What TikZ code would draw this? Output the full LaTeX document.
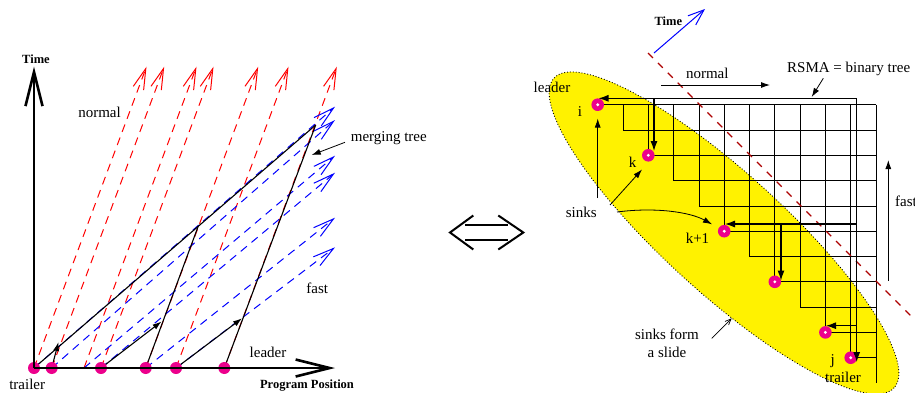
\documentclass[tikz,border=0pt]{standalone}
\usepackage{fontspec}
\setmainfont{Liberation Serif}
\usetikzlibrary{arrows.meta,calc}
\definecolor{darkred}{rgb}{0.68,0,0}
\begin{document}
\begin{tikzpicture}[x=1pt,y=-1pt,
  lbl/.style={inner sep=0pt, anchor=base, font=\fontsize{15}{17}\selectfont},
  blbl/.style={inner sep=0pt, anchor=base, font=\fontsize{12.5}{14}\selectfont\bfseries},
  axisline/.style={line width=2.6pt, -{Straight Barb[length=34pt,width=17pt]}},
  normalline/.style={red, line width=1pt, dash pattern=on 8pt off 6pt, -{Straight Barb[length=21pt,width=11pt]}},
  fastline/.style={blue, line width=1pt, dash pattern=on 8pt off 6pt, -{Straight Barb[length=21pt,width=11pt]}},
  mtree/.style={line width=1.1pt},
  stip/.style={-{Latex[length=9pt,width=6pt]}},
  ttip/.style={-{Latex[length=10pt,width=7pt]}},
  gridline/.style={line width=0.8pt},
  treeline/.style={line width=1.1pt},
  sinkdot/.style={fill=magenta, draw=none},
]
\useasboundingbox (0,0) rectangle (915,392);

%%%%%%%%%%%%%%%% LEFT PANEL %%%%%%%%%%%%%%%%
\coordinate (O) at (34,368);
\coordinate (tT) at (34,66.7);
\coordinate (pT) at (335,368);
\foreach \x [count=\i] in {34,51.7,84,101,145.7,176,224.3}
  \coordinate (b\i) at (\x,368);
% normal (red) lines
\foreach \i in {1,...,7}{
  \coordinate (rt\i) at ($(b\i)+(112.5,-301.3)$);
  \draw[normalline] (b\i) -- (rt\i);
}
% fast (blue) lines
\foreach \i/\ty in {1/106.7,2/120,3/155.7,4/172.7,5/217.7,6/247.3}{
  \coordinate (ft\i) at (335,\ty);
  \draw[fastline] (b\i) -- (ft\i);
}
% merging tree
\coordinate (apex) at (315.7,125);
\coordinate (m2) at (58.5,342);
\coordinate (m3) at (161.5,321.5);
\coordinate (m4) at (198.3,226);
\coordinate (m5) at (242,318.3);
\draw[mtree] (b1) -- (apex);
\draw[mtree] (b7) -- (apex);
\draw[mtree] (b5) -- (m4);
\draw[mtree,stip] (b2) -- (m2);
\draw[mtree,stip] (b4) -- (m3);
\draw[mtree,stip] (b6) -- (m5);
% sinks
\foreach \i in {1,2,4,5,6,7}
  \fill[sinkdot] (b\i) circle (6);
% axes
\draw[axisline] (O) -- (tT);
\draw[axisline] (O) -- (pT);
% labels
\node[blbl] (timeL) at (36,63.3) {Time};
\node[blbl] (ppos) at (307,388.5) {Program Position};
\node[lbl] (trailL) at (27.2,389) {trailer};
\node[lbl] (leadL) at (268,357.8) {leader};
\node[lbl] (normL) at (99.5,117) {normal};
\node[lbl] (fastL) at (317.2,293.8) {fast};
\node[lbl] (mergL) at (388.8,141.5) {merging tree};
\coordinate (mergA) at (345,142.3);
\coordinate (mergB) at (311.7,155);
\draw[line width=0.8pt,stip] (mergA) -- (mergB);

%%%%%%%%%%%%%%%% DOUBLE ARROW %%%%%%%%%%%%%%%%
\coordinate (dl) at (450,232.5);
\coordinate (dr) at (523.3,232.5);
\draw[line width=2pt] (473.3,215.5) -- (dl) -- (473.3,249.5);
\draw[line width=2pt] (498.3,215.5) -- (dr) -- (498.3,249.5);
\draw[line width=2pt] (465,225) -- (508.3,225);
\draw[line width=2pt] (465,240) -- (508.3,240);

%%%%%%%%%%%%%%%% RIGHT PANEL %%%%%%%%%%%%%%%%
% slide ellipse
\coordinate (ec) at (724,233);
\fill[yellow, rotate around={-42.3:(ec)}] (ec) ellipse [x radius=230, y radius=60];
\draw[black, dotted, line width=0.9pt, rotate around={-42.3:(ec)}] (ec) ellipse [x radius=230, y radius=60];

% grid
\pgfmathsetmacro{\gx}{597.7}
\pgfmathsetmacro{\gy}{104.7}
\pgfmathsetmacro{\gu}{25.3}
\foreach \r in {0,...,10}
  \draw[gridline] ({\gx+\r*\gu},{\gy+\r*\gu}) -- ({\gx+11*\gu},{\gy+\r*\gu});
\foreach \c in {1,...,11}
  \draw[gridline] ({\gx+\c*\gu},\gy) -- ({\gx+\c*\gu},{\gy+\c*\gu});

% time diagonal
\coordinate (dgA) at (648,53);
\coordinate (dgB) at (913,318);
\draw[darkred, line width=1.1pt, dash pattern=on 7pt off 7pt] (dgA) -- (dgB);

% sinks
\coordinate (si)  at ({\gx},{\gy});
\coordinate (sk)  at ({\gx+2*\gu},{\gy+2*\gu});
\coordinate (sk1) at ({\gx+5*\gu},{\gy+5*\gu});
\coordinate (s7)  at ({\gx+7*\gu},{\gy+7*\gu});
\coordinate (s9)  at ({\gx+9*\gu},{\gy+9*\gu});
\coordinate (sj)  at ({\gx+10*\gu},{\gy+10*\gu});
\foreach \s in {si,sk,sk1,s7,s9,sj}{
  \fill[magenta] (\s) circle (6.3);
  \fill[white] (\s) circle (1.6);
}

% RSMA tree
\coordinate (root) at (856.7,98.3);
\coordinate (ti) at (598.5,98.3);
\coordinate (tkA) at (654,98.3);
\coordinate (tk) at (654,151);
\coordinate (tj) at (856.7,362);
\coordinate (b5A) at (856.7,224);
\coordinate (t5) at (725,224);
\coordinate (b7A) at (781,224);
\coordinate (t7) at (781,280.5);
\coordinate (b9A) at (856.7,325.7);
\coordinate (t9) at (826,325.7);
\draw[treeline,ttip] (root) -- (ti);
\draw[treeline,ttip] (tkA) -- (tk);
\draw[treeline,ttip] (root) -- (tj);
\draw[treeline,ttip] (b5A) -- (t5);
\draw[treeline,ttip] (b7A) -- (t7);
\draw[treeline,ttip] (b9A) -- (t9);

% time arrow
\coordinate (tmA) at (654,53);
\coordinate (tmB) at (705,9);
\draw[blue, line width=1pt, -{Straight Barb[length=16pt,width=12pt]}] (tmA) -- (tmB);
\node[blbl] (timeR) at (668.3,25) {Time};

% normal arrow
\coordinate (nA) at (661,85);
\coordinate (nB) at (770,85);
\draw[line width=0.9pt,stip] (nA) -- (nB);
\node[lbl] (normR) at (707.3,78.5) {normal};

% RSMA label
\node[lbl] (rsma) at (848.7,72.8) {RSMA = binary tree};
\coordinate (rA) at (823.3,78.3);
\coordinate (rB) at (811.7,97);
\draw[line width=0.8pt,stip] (rA) -- (rB);

% fast arrow
\coordinate (fA) at (888.3,280.7);
\coordinate (fB) at (888.3,160);
\draw[line width=0.9pt,stip] (fA) -- (fB);
\node[lbl, anchor=base west] (fastR) at (895,206) {fast};

% sink labels
\node[lbl] (leadR) at (552,92) {leader};
\node[lbl] (iL) at (580,116.2) {i};
\node[lbl] (kL) at (632.7,167.8) {k};
\node[lbl] (k1L) at (697.5,243.8) {k+1};
\node[lbl] (jL) at (832.7,364.5) {j};
\node[lbl] (trailR) at (843,382.8) {trailer};

% sinks label and arrows
\node[lbl] (sinksL) at (581.3,217.8) {sinks};
\coordinate (sv) at (597.7,198);
\coordinate (svT) at (597.7,118.5);
\draw[line width=0.8pt,stip] (sv) -- (svT);
\coordinate (sa) at (610,205);
\coordinate (saT) at (642,169.5);
\draw[line width=0.8pt,stip] (sa) -- (saT);
\coordinate (sc) at (617,212);
\coordinate (scT) at (712,224.3);
\draw[line width=0.8pt,stip] (sc) .. controls (655,207) and (690,212) .. (scT);

% slide label
\node[lbl] (slide1) at (667,339.5) {sinks form};
\node[lbl] (slide2) at (667,357.8) {a slide};
\coordinate (slA) at (711.7,338.3);
\coordinate (slB) at (731.7,318.3);
\draw[line width=0.7pt, -{Straight Barb[length=6pt,width=5pt]}] (slA) -- (slB);

\end{tikzpicture}
\end{document}
